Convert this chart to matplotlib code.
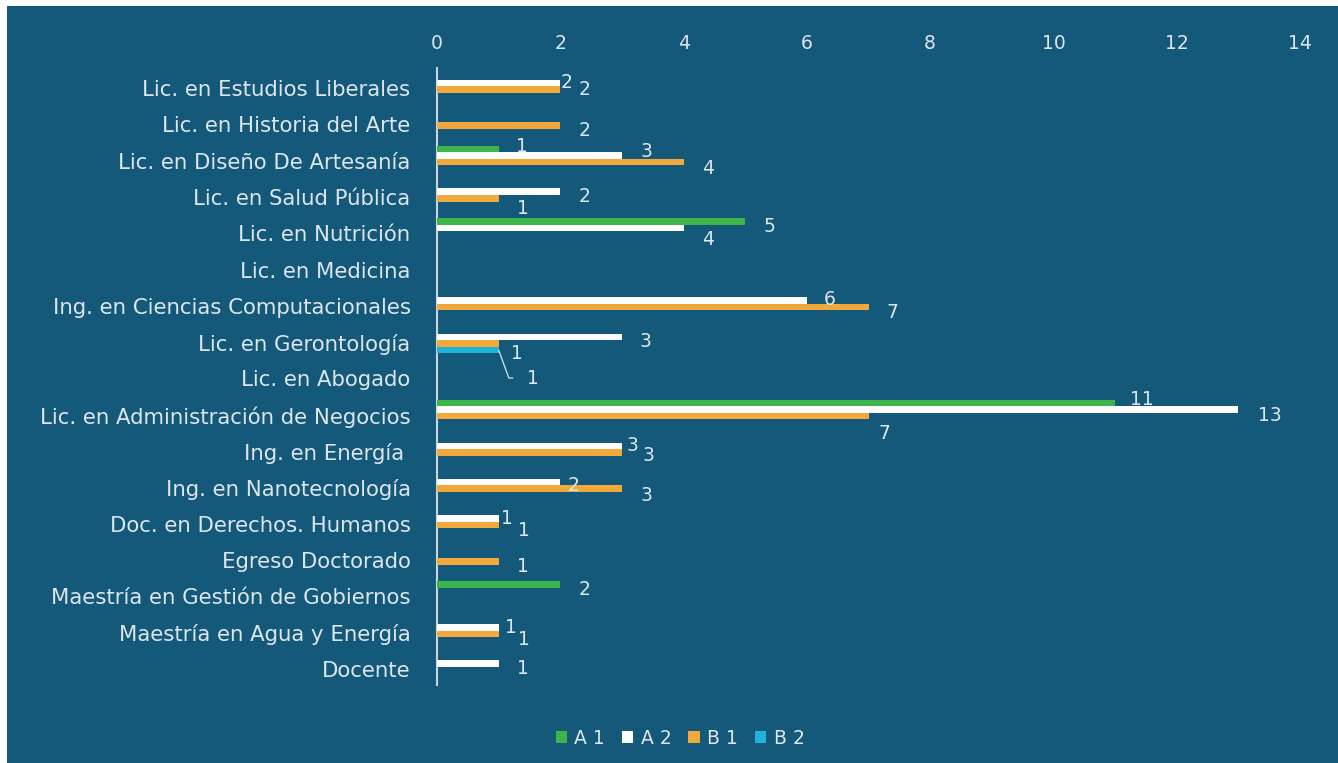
import matplotlib
matplotlib.use("Agg")
import matplotlib.pyplot as plt
from matplotlib.patches import Rectangle
import matplotlib.transforms as mtransforms
import numpy as np

categories = [
    "Lic. en Estudios Liberales",
    "Lic. en Historia del Arte",
    "Lic. en Diseño De Artesanía",
    "Lic. en Salud Pública",
    "Lic. en Nutrición",
    "Lic. en Medicina",
    "Ing. en Ciencias Computacionales",
    "Lic. en Gerontología",
    "Lic. en Abogado",
    "Lic. en Administración de Negocios",
    "Ing. en Energía ",
    "Ing. en Nanotecnología",
    "Doc. en Derechos. Humanos",
    "Egreso Doctorado",
    "Maestría en Gestión de Gobiernos",
    "Maestría en Agua y Energía",
    "Docente",
]
# None = no bar / no label
A1 = [None, None, 1, None, 5, None, None, None, None, 11, None, None, None, None, 2, None, None]
A2 = [2, None, 3, 2, 4, None, 6, 3, None, 13, 3, 2, 1, None, None, 1, 1]
B1 = [2, 2, 4, 1, None, None, 7, 1, None, 7, 3, 3, 1, 1, None, 1, None]
B2 = [None, None, None, None, None, None, None, 1, None, None, None, None, None, None, None, None, None]

series_names = ["A 1", "A 2", "B 1", "B 2"]
series_values = [A1, A2, B1, B2]
series_colors = ["#3db54a", "#ffffff", "#f2a93b", "#1fb3dc"]
x_ticks = [0, 2, 4, 6, 8, 10, 12, 14]

BG = "#14587a"
TXT = "#dde6ec"
FONT = ["DejaVu Sans"]
plt.rcParams["font.family"] = FONT
FS = 13.5

W, H = 1338, 763
fig = plt.figure(figsize=(W / 100, H / 100), dpi=100)
fig.patch.set_facecolor("white")
bgrect = Rectangle((7 / W, 0), 1 - 7 / W, 1 - 6 / H, transform=fig.transFigure,
                   facecolor=BG, edgecolor="none", zorder=-10)
fig.patches.append(bgrect)

ax = fig.add_axes([437 / W, 1 - 685 / H, (1300 - 437) / W, (685 - 68) / H])
ax.patch.set_alpha(0)

h = 0.18
y = np.arange(len(categories))
offs = [-1.5 * h, -0.5 * h, 0.5 * h, 1.5 * h]

# label offsets in pixels (dx right, dy down) relative to bar end
default_off = (24, 5)
special = {
    (0, 1): (6, 0), (0, 2): (24, 0),
    (2, 0): (23, -2), (2, 1): (25, -4), (2, 2): (24, 6),
    (3, 2): (24, 10),
    (4, 1): (24, 11),
    (6, 1): (23, -1),
    (9, 0): (27, -3), (9, 1): (32, 6), (9, 2): (16, 17),
    (10, 1): (11, 0), (10, 2): (27, 3),
    (11, 1): (13, 3), (11, 2): (25, 7),
    (12, 1): (8, 0), (12, 2): (25, 6),
    (15, 1): (12, 0), (15, 2): (25, 6),
}

handles = []
for s, (name, vals, col) in enumerate(zip(series_names, series_values, series_colors)):
    v = np.array([np.nan if x is None else x for x in vals], dtype=float)
    b = ax.barh(y + offs[s], np.nan_to_num(v), height=h, color=col, label=name, zorder=3)
    handles.append(b)
    for i, val in enumerate(vals):
        if val is None:
            continue
        if (i, s) == (7, 2) or (i, s) == (7, 3):
            continue
        dx, dy = special.get((i, s), default_off)
        ax.annotate(str(val), (val, y[i] + offs[s]), xytext=(dx, -dy),
                    textcoords="offset pixels", ha="center", va="center",
                    color=TXT, fontsize=FS, zorder=5)

# Gerontología small bars with leader lines
gi = 7
ax.annotate("1", (B1[gi], y[gi] + offs[2]), xytext=(18, -10), textcoords="offset pixels",
            ha="center", va="center", color=TXT, fontsize=FS, zorder=5)
ax.annotate("1", (B2[gi], y[gi] + offs[3]), xytext=(34, -28), textcoords="offset pixels",
            ha="center", va="center", color=TXT, fontsize=FS, zorder=5,
            arrowprops=dict(arrowstyle="-", color=TXT, lw=0.9, shrinkA=8, shrinkB=0,
                            connectionstyle="angle,angleA=0,angleB=-70,rad=0"))

ax.set_ylim(len(categories) - 0.5, -0.5)
ax.set_xlim(0, 14)
ax.set_xticks(x_ticks)
ax.xaxis.tick_top()
ax.tick_params(axis="x", length=0, colors=TXT, labelsize=FS, pad=10.5)
ax.set_yticks(y)
ax.set_yticklabels(categories, va="center")
ax.tick_params(axis="y", length=0, colors=TXT, labelsize=15.3, pad=19)
shift = mtransforms.ScaledTranslation(0, -4 / 100, fig.dpi_scale_trans)
for lbl in ax.get_yticklabels():
    lbl.set_transform(lbl.get_transform() + shift)
for sp in ["top", "right", "bottom"]:
    ax.spines[sp].set_visible(False)
ax.spines["left"].set_color("#c8d4dc")
ax.spines["left"].set_linewidth(1.5)

leg = fig.legend(handles=handles, labels=series_names, loc="center", bbox_to_anchor=(680 / W, 1 - 738 / H),
                 ncol=4, frameon=False, handlelength=0.6, handleheight=0.6, handletextpad=0.4,
                 columnspacing=0.9, fontsize=FS)
for t in leg.get_texts():
    t.set_color(TXT)

fig.savefig("out.png", dpi=100, facecolor="white")
